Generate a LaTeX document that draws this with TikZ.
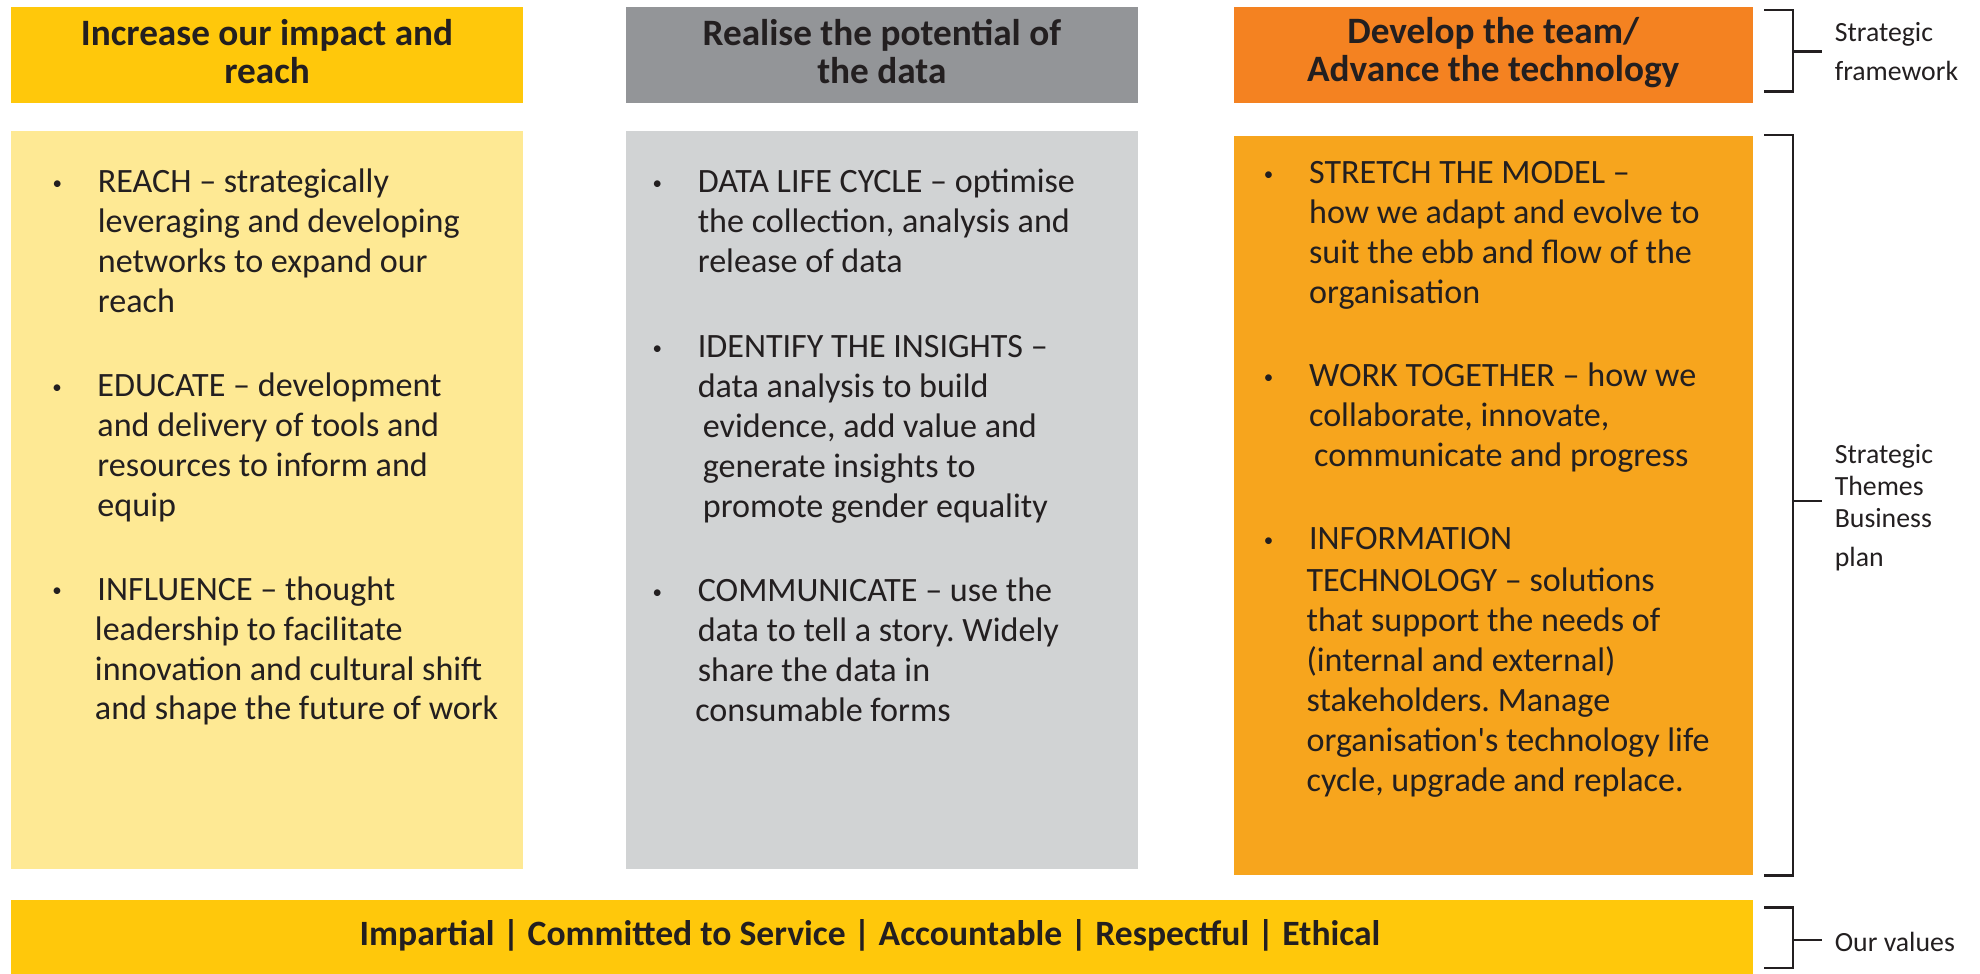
\documentclass[tikz,border=0pt]{standalone}
\usepackage{fontspec}
\setmainfont{Carlito}
\frenchspacing
\definecolor{ink}{HTML}{231F20}
\definecolor{gold}{HTML}{FFC80B}
\definecolor{paleyellow}{HTML}{FEE994}
\definecolor{midgrey}{HTML}{939598}
\definecolor{palegrey}{HTML}{D1D3D4}
\definecolor{deeporange}{HTML}{F48221}
\definecolor{amber}{HTML}{F7A51D}
% small bullet hung 32pt to the left of the text start
\newcommand\itemdot{\llap{\makebox[0pt][c]{\raisebox{2.6pt}{\fontsize{15}{15}\selectfont •}}\hspace{32pt}}}
\begin{document}
\begin{tikzpicture}[x=1pt,y=-1pt,
  panel/.style={anchor=north west, inner sep=0pt, outer sep=0pt, draw=none},
  headtext/.style={anchor=north, align=center, inner sep=0pt, text=ink,
    font={\lineskiplimit=-100pt\relax\fontsize{29.5}{29.9}\selectfont\bfseries}},
  bodytext/.style={anchor=north west, align=left, inner sep=0pt, text=ink,
    font={\lineskiplimit=-100pt\relax\fontsize{27}{31.6}\selectfont}},
  sidetext/.style={anchor=north west, align=left, inner sep=0pt, text=ink},
  bracket/.style={draw=ink, line width=2.1pt, line join=miter, line cap=butt}
]
\useasboundingbox (0,0) rectangle (1568,771);

% ---- column headers ----
\node[panel, fill=gold,       minimum width=405.6pt, minimum height=75.5pt] (h1) at (8.7,5.8) {};
\node[panel, fill=midgrey,    minimum width=405.4pt, minimum height=75.5pt] (h2) at (495.6,5.8) {};
\node[panel, fill=deeporange, minimum width=411pt,   minimum height=75.5pt] (h3) at (977,5.8) {};

\node[headtext] (h1t) at (211.5,14.7) {\strut Increase our impact and\\reach};
\node[headtext] (h2t) at (698.3,14.7) {\strut Realise the potential of\\the data};
\node[headtext] (h3t) at (1182.5,13.4) {\strut Develop the team/\\Advance the technology};

% ---- column bodies ----
\node[panel, fill=paleyellow, minimum width=405.6pt, minimum height=584.7pt] (b1) at (8.7,103.7) {};
\node[panel, fill=palegrey,   minimum width=405.4pt, minimum height=584.7pt] (b2) at (495.6,103.7) {};
\node[panel, fill=amber,      minimum width=411pt,   minimum height=585pt]   (b3) at (977,107.7) {};

% column 1
\node[bodytext] (reach) at (77.3,130.5) {\strut\itemdot REACH – strategically\\leveraging and developing\\networks to expand our\\reach};
\node[bodytext] (educate) at (77,292.0) {\strut\itemdot EDUCATE – development\\and delivery of tools and\\resources to inform and\\equip};
\node[bodytext] (influence) at (77,453.0) {\strut\itemdot INFLUENCE – thought\\\hspace*{-2pt}leadership to facilitate\\\hspace*{-2pt}innovation and cultural shift\\\hspace*{-2pt}and shape the future of work};

% column 2
\node[bodytext] (lifecycle) at (552.4,130.5) {\strut\itemdot DATA LIFE CYCLE – optimise\\the collection, analysis and\\release of data};
\node[bodytext] (insights) at (552.4,260.8) {\strut\itemdot IDENTIFY THE INSIGHTS –\\data analysis to build\\\hspace*{4pt}evidence, add value and\\\hspace*{4pt}generate insights to\\\hspace*{4pt}promote gender equality};
\node[bodytext] (communicate) at (552.4,454.3) {\strut\itemdot COMMUNICATE – use the\\data to tell a story. Widely\\share the data in\\\hspace*{-2pt}consumable forms};

% column 3
\node[bodytext] (stretch) at (1036.5,123.1) {\strut\itemdot STRETCH THE MODEL –\\how we adapt and evolve to\\suit the ebb and flow of the\\organisation};
\node[bodytext] (together) at (1036.5,284.1) {\strut\itemdot WORK TOGETHER – how we\\collaborate, innovate,\\\hspace*{4pt}communicate and progress};
\node[bodytext] (infotech) at (1036.5,412.9) {\strut\itemdot INFORMATION\\[1.9pt]\hspace*{-2pt}TECHNOLOGY – solutions\\\hspace*{-2pt}that support the needs of\\\hspace*{-2pt}(internal and external)\\\hspace*{-2pt}stakeholders. Manage\\\hspace*{-2pt}organisation\textquotesingle s technology life\\\hspace*{-2pt}cycle, upgrade and replace.};

% ---- values bar ----
\node[panel, fill=gold, minimum width=1379.3pt, minimum height=58.3pt] (values) at (8.7,712.7) {};
\node[anchor=base, inner sep=0pt, text=ink, font={\fontsize{28.2}{32}\selectfont\bfseries}] (valuestext) at (689,748.9)
  {Impartial | Committed to Service | Accountable | Respectful | Ethical};

% ---- side labels ----
\node[sidetext, font={\lineskiplimit=-100pt\relax\fontsize{22}{30.4}\selectfont}] (lframe) at (1452.8,11.7) {\strut Strategic\\framework};
\node[sidetext, font={\lineskiplimit=-100pt\relax\fontsize{22}{25.4}\selectfont}] (lthemes) at (1452.8,349.1) {\strut Strategic\\Themes\\Business\\[5.5pt]plan};
\node[anchor=base west, inner sep=0pt, text=ink, font={\fontsize{22}{26}\selectfont}] (lvalues) at (1452.8,753.6) {Our values};

% ---- brackets ----
\coordinate (fa) at (1397,7.9);   \coordinate (fb) at (1420,7.9);
\coordinate (fc) at (1420,72.6);  \coordinate (fd) at (1397,72.6);
\coordinate (fm) at (1420,40.9);  \coordinate (fe) at (1443,40.9);
\draw[bracket] (fa) -- (fb) -- (fc) -- (fd);
\draw[bracket] (fm) -- (fe);

\coordinate (ta) at (1397,106.9); \coordinate (tb) at (1420,106.9);
\coordinate (tc) at (1420,693.3); \coordinate (td) at (1397,693.3);
\coordinate (tm) at (1420,396.7); \coordinate (te) at (1443,396.7);
\draw[bracket] (ta) -- (tb) -- (tc) -- (td);
\draw[bracket] (tm) -- (te);

\coordinate (va) at (1397,718.7); \coordinate (vb) at (1420,718.7);
\coordinate (vc) at (1420,766.6); \coordinate (vd) at (1397,766.6);
\coordinate (vm) at (1420,744.4); \coordinate (ve) at (1443,744.4);
\draw[bracket] (va) -- (vb) -- (vc) -- (vd);
\draw[bracket] (vm) -- (ve);
\end{tikzpicture}
\end{document}
